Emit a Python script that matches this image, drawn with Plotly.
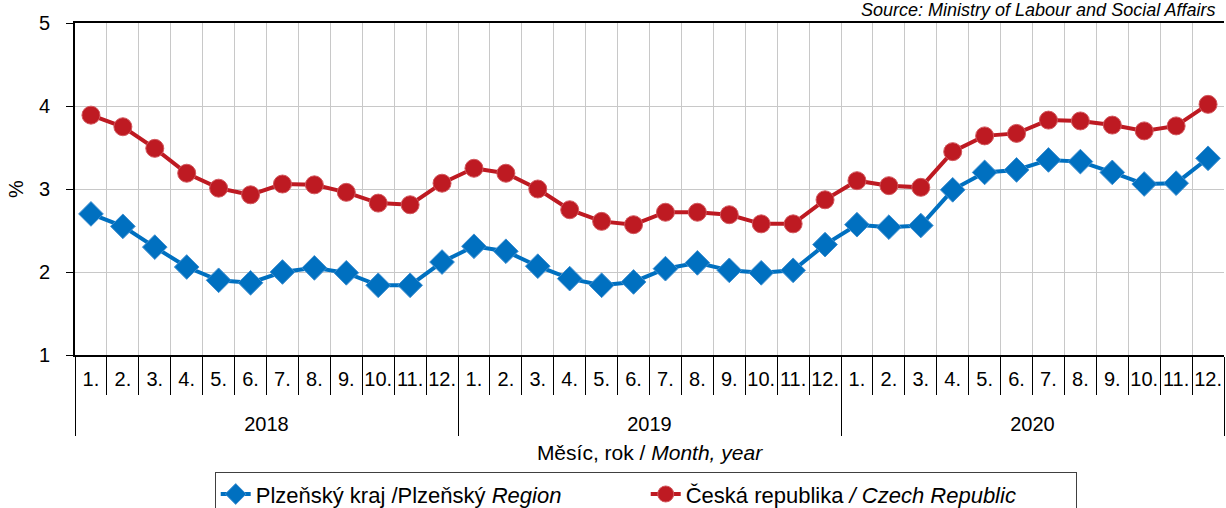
import plotly.graph_objects as go

years = ["2018"] * 12 + ["2019"] * 12 + ["2020"] * 12
months = [f"{m}." for m in range(1, 13)] * 3

# podíl nezaměstnaných osob (%)
plzen = [2.70, 2.55, 2.30, 2.06, 1.90, 1.87, 2.00, 2.05, 1.99, 1.84, 1.84, 2.12,
         2.31, 2.25, 2.07, 1.92, 1.84, 1.88, 2.04, 2.11, 2.02, 1.99, 2.02, 2.33,
         2.57, 2.54, 2.56, 2.99, 3.20, 3.23, 3.35, 3.33, 3.20, 3.06, 3.07, 3.37]
cz = [3.89, 3.75, 3.49, 3.19, 3.01, 2.93, 3.06, 3.05, 2.96, 2.83, 2.81, 3.07,
      3.25, 3.19, 3.00, 2.75, 2.61, 2.57, 2.72, 2.72, 2.69, 2.58, 2.58, 2.87,
      3.10, 3.04, 3.02, 3.45, 3.64, 3.67, 3.83, 3.82, 3.77, 3.70, 3.76, 4.02]

font = "Liberation Sans, Arial, sans-serif"

# roky o řádek níž pod čísly měsíců
year_labels = ["<br>" + y for y in years]

fig = go.Figure()
fig.add_trace(go.Scatter(
    x=[year_labels, months], y=plzen, mode="lines+markers",
    name="Plzeňský kraj /Plzeňský <i>Region</i>",
    line=dict(color="#0070C0", width=4),
    marker=dict(symbol="diamond", size=19, color="#0070C0",
                line=dict(color="#3F8FD0", width=1)),
))
fig.add_trace(go.Scatter(
    x=[year_labels, months], y=cz, mode="lines+markers",
    name="Česká republika <i>/ Czech Republic</i>",
    line=dict(color="#BE1A22", width=4),
    marker=dict(symbol="circle", size=18, color="#BE1A22",
                line=dict(color="#D2575D", width=1)),
))

fig.update_layout(
    width=1226, height=508,
    margin=dict(l=75, r=2, t=23, b=153, autoexpand=False),
    plot_bgcolor="white", paper_bgcolor="white",
    font=dict(family=font, size=20, color="black"),
    showlegend=True,
    legend=dict(orientation="h", x=0.1216, xanchor="left", y=-0.353, yanchor="top",
                bordercolor="#404040", borderwidth=1,
                font=dict(size=22), entrywidth=385),
)

fig.update_xaxes(
    type="multicategory", tickson="boundaries", range=[-0.5, 35.5],
    tickangle=0, ticklabelstandoff=5,
    showgrid=True, gridcolor="#C8C8C8", gridwidth=1,
    showline=True, linecolor="black", linewidth=2, mirror=True,
    ticks="outside", ticklen=38, tickcolor="black",
    showdividers=True, dividercolor="black", dividerwidth=1,
    tickfont=dict(size=20),
    title=dict(text="Měsíc, rok / <i>Month, year</i>", font=dict(size=21), standoff=11),
    automargin=False,
)
fig.update_yaxes(
    range=[1, 5], dtick=1,
    showgrid=True, gridcolor="#C8C8C8", gridwidth=1,
    showline=True, linecolor="black", linewidth=2,
    ticks="outside", ticklen=7, tickcolor="black",
    ticklabelstandoff=12,
    zeroline=False,
    tickfont=dict(size=20),
    title=dict(text="%", font=dict(size=20), standoff=10),
    automargin=False,
)

fig.add_annotation(
    xref="paper", yref="paper", x=0.682, y=1.0, xanchor="left", yanchor="bottom",
    yshift=1, text="<i>Source: Ministry of Labour and Social Affairs</i>",
    showarrow=False, font=dict(size=18, family=font),
)

fig.write_html("out.html", config={"displayModeBar": False},
               post_script="document.body.style.margin = '0';")
